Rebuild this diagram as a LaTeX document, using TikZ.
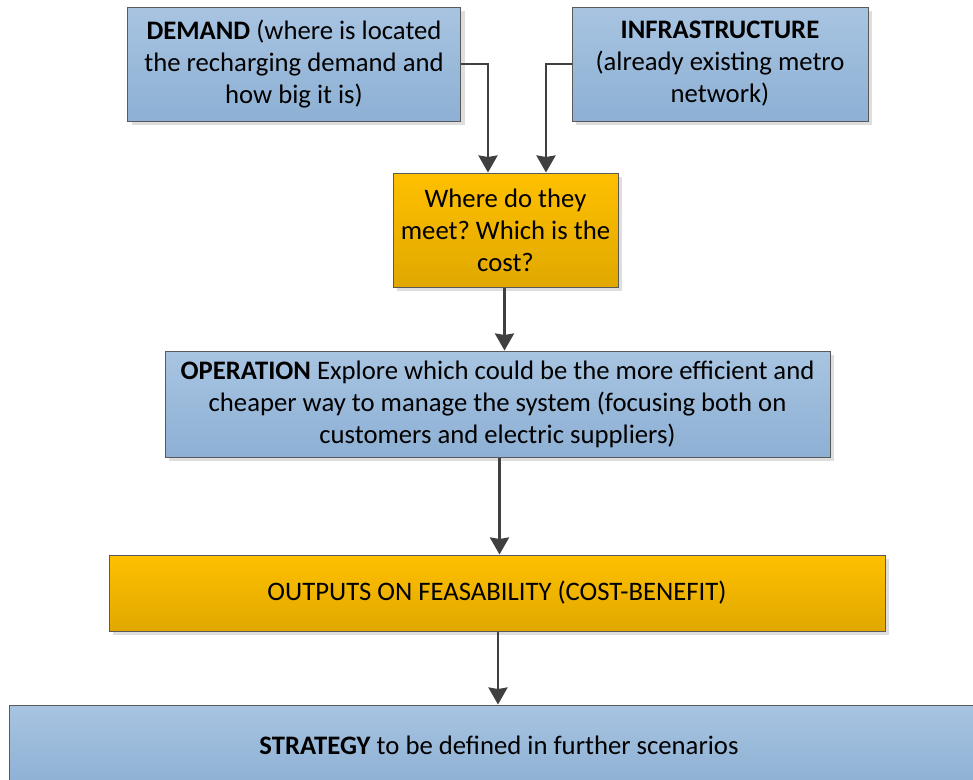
\documentclass[tikz,border=0pt]{standalone}
\usepackage{fontspec}
\setmainfont{Carlito}
\usetikzlibrary{arrows.meta,shadows,calc}
\definecolor{bluetop}{HTML}{A8C4E1}
\definecolor{bluebot}{HTML}{8DB0D4}
\definecolor{ortop}{HTML}{FFC000}
\definecolor{orbot}{HTML}{E0A800}
\definecolor{edgegray}{HTML}{404040}
\definecolor{bordergray}{HTML}{595959}
\frenchspacing
\tikzset{
  box/.style={draw=bordergray, line width=1pt, inner sep=0pt, align=center,
    font=\fontsize{26.7}{32}\selectfont,
    drop shadow={shadow xshift=4pt, shadow yshift=-4pt, fill=black!13, opacity=1}},
  bluebox/.style={box, top color=bluetop, bottom color=bluebot},
  orbox/.style={box, top color=ortop, bottom color=orbot},
  arr/.style={draw=edgegray, line width=2.8pt,
    -{Stealth[inset=1.5pt, width=19pt, length=17pt]}},
}
\begin{document}
\begin{tikzpicture}[x=1pt,y=-1pt]
\useasboundingbox (0,0) rectangle (973,779);
\node[bluebox, minimum width=333pt, minimum height=114pt] (demand) at (294,64)
  {\textbf{DEMAND} (where is located\\the recharging demand and\\how big it is)};
\node[bluebox, minimum width=296pt, minimum height=114pt] (infra) at (720,64)
  {\textbf{INFRASTRUCTURE}\\(already existing metro\\network)};
\node[orbox, minimum width=225pt, minimum height=114pt] (where) at (505.5,230)
  {Where do they\\meet? Which is the\\cost?};
\node[bluebox, minimum width=665pt, minimum height=106pt] (operation) at (497.5,404)
  {\textbf{OPERATION} Explore which could be the more efficient and\\cheaper way to manage the system (focusing both on\\customers and electric suppliers)};
\node[orbox, minimum width=776pt, minimum height=76pt] (outputs) at (497,593)
  {OUTPUTS ON FEASABILITY (COST-BENEFIT)};
\node[bluebox, minimum width=980pt, minimum height=80pt] (strategy) at (499,745)
  {\textbf{STRATEGY} to be defined in further scenarios};
\draw[arr] (demand.east) -| ([xshift=-17.5pt]where.north);
\draw[arr] (infra.west) -| ([xshift=40.5pt]where.north);
\draw[arr] ([xshift=-1pt]where.south) -- ([xshift=-1pt]where.south |- operation.north);
\draw[arr] ([xshift=2pt]operation.south) -- ([xshift=2pt]operation.south |- outputs.north);
\draw[arr] ([xshift=1pt]outputs.south) -- ([xshift=1pt]outputs.south |- strategy.north);
\end{tikzpicture}
\end{document}
